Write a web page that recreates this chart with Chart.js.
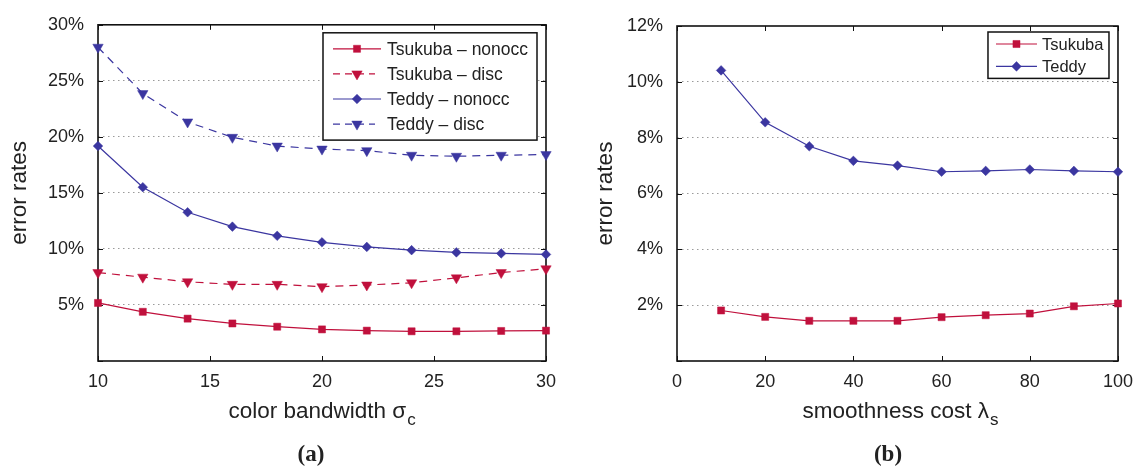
<!DOCTYPE html>
<html><head><meta charset="utf-8">
<script src="https://cdn.jsdelivr.net/npm/chart.js@4.4.0/dist/chart.umd.min.js"></script>
<style>
html,body{margin:0;padding:0;background:#fff;width:1143px;height:467px;overflow:hidden;position:relative}
canvas{position:absolute;top:0}
.xt{position:absolute;text-align:center;font-family:"Liberation Sans",Arial,sans-serif;font-size:22.5px;line-height:22.5px;color:#222;white-space:nowrap}
.sub{font-size:17px;position:relative;top:7px;margin-left:1px}
.pl{position:absolute;text-align:center;font-family:"Liberation Serif","Times New Roman",serif;font-weight:bold;font-size:23px;line-height:23px;color:#222}
</style></head><body>
<canvas id="ca" style="left:0px" width="570" height="400"></canvas>
<canvas id="cb" style="left:580px" width="563" height="400"></canvas>
<div class="xt" style="left:98px;width:448px;top:400px">color bandwidth σ<span class="sub">c</span></div>
<div class="pl" style="left:281px;width:60px;top:442px">(a)</div>
<div class="xt" style="left:677px;width:447px;top:400px">smoothness cost λ<span class="sub">s</span></div>
<div class="pl" style="left:858px;width:60px;top:442px">(b)</div>
<script>
// ---- data: panel (a) ----
const sigmaC = [10, 12, 14, 16, 18, 20, 22, 24, 26, 28, 30];
const tsukubaNonocc = [5.18, 4.39, 3.78, 3.35, 3.06, 2.82, 2.71, 2.65, 2.65, 2.68, 2.71];
const tsukubaDisc   = [7.89, 7.48, 7.07, 6.84, 6.84, 6.63, 6.78, 6.98, 7.42, 7.89, 8.23];
const teddyNonocc   = [19.18, 15.51, 13.27, 11.99, 11.17, 10.59, 10.18, 9.89, 9.69, 9.60, 9.51];
const teddyDisc     = [28.0, 23.86, 21.33, 19.96, 19.18, 18.91, 18.77, 18.36, 18.27, 18.36, 18.42];
const labelsA = ['Tsukuba – nonocc', 'Tsukuba – disc', 'Teddy – nonocc', 'Teddy – disc'];
// ---- data: panel (b) ----
const lambdaS = [10, 20, 30, 40, 50, 60, 70, 80, 90, 100];
const tsukubaB = [1.81, 1.58, 1.44, 1.44, 1.44, 1.57, 1.64, 1.70, 1.96, 2.06];
const teddyB   = [10.41, 8.55, 7.69, 7.17, 7.00, 6.78, 6.81, 6.86, 6.81, 6.78];
const labelsB = ['Tsukuba', 'Teddy'];
const yTitle = 'error rates';

const RED = '#c0103c', BLUE = '#3b36a0', INK = '#222';
const FONT = '"Liberation Sans", Arial, sans-serif';
const DASH = [8, 6];

function pts(xs, ys) { return xs.map((x, i) => ({ x: x, y: ys[i] })); }
function ds(label, xs, ys, color, style, radius, rotation, dashed) {
  return {
    label: label, data: pts(xs, ys),
    borderColor: color, backgroundColor: color,
    borderWidth: 1.2, borderDash: dashed ? DASH : [],
    pointStyle: style, pointRadius: radius, pointHoverRadius: radius,
    pointRotation: rotation, pointBackgroundColor: color, pointBorderColor: color,
    pointBorderWidth: 0.5, tension: 0, clip: false, fill: false
  };
}

function marker(ctx, style, r, rot, x, y) {
  ctx.beginPath();
  if (style === 'rect') {
    const s = Math.SQRT1_2 * r; ctx.rect(x - s, y - s, 2 * s, 2 * s);
  } else if (style === 'rectRot') {
    ctx.moveTo(x - r, y); ctx.lineTo(x, y - r); ctx.lineTo(x + r, y); ctx.lineTo(x, y + r); ctx.closePath();
  } else if (style === 'triangle') {
    let rad = rot * Math.PI / 180;
    ctx.moveTo(x + Math.sin(rad) * r, y - Math.cos(rad) * r);
    rad += 2 * Math.PI / 3; ctx.lineTo(x + Math.sin(rad) * r, y - Math.cos(rad) * r);
    rad += 2 * Math.PI / 3; ctx.lineTo(x + Math.sin(rad) * r, y - Math.cos(rad) * r);
    ctx.closePath();
  }
  ctx.fill(); ctx.stroke();
}

const framePlugin = {
  id: 'frame',
  beforeDatasetsDraw(chart) {
    const { ctx, chartArea: a, scales: { x, y } } = chart;
    ctx.save();
    ctx.strokeStyle = '#111'; ctx.lineWidth = 1;
    ctx.beginPath();
    x.ticks.forEach(t => {
      const p = Math.round(x.getPixelForValue(t.value)) + 0.5;
      ctx.moveTo(p, a.bottom); ctx.lineTo(p, a.bottom - 5);
      ctx.moveTo(p, a.top); ctx.lineTo(p, a.top + 5);
    });
    y.ticks.forEach(t => {
      const p = Math.round(y.getPixelForValue(t.value)) + 0.5;
      ctx.moveTo(a.left, p); ctx.lineTo(a.left + 5, p);
      ctx.moveTo(a.right, p); ctx.lineTo(a.right - 5, p);
    });
    ctx.stroke();
    ctx.lineWidth = 1.6; ctx.strokeStyle = '#111';
    ctx.strokeRect(a.left, a.top, a.right - a.left, a.bottom - a.top);
    ctx.restore();
  }
};

const boxLegend = {
  id: 'boxLegend',
  afterDatasetsDraw(chart, args, o) {
    const { ctx, chartArea: a } = chart;
    const n = chart.data.datasets.length;
    const w = o.width, h = o.padTop * 2 + o.rowH * (n - 1);
    const bx = a.right - o.right - w, by = a.top + o.top;
    ctx.save();
    ctx.fillStyle = '#fff'; ctx.fillRect(bx, by, w, h);
    ctx.lineWidth = 1.5; ctx.strokeStyle = '#111'; ctx.strokeRect(bx, by, w, h);
    ctx.font = o.fontSize + 'px ' + FONT; ctx.textBaseline = 'middle'; ctx.textAlign = 'left';
    chart.data.datasets.forEach((d, i) => {
      const ry = by + o.padTop + i * o.rowH;
      const lx = bx + o.lineStart;
      ctx.strokeStyle = d.borderColor; ctx.fillStyle = d.borderColor; ctx.lineWidth = 1.2;
      ctx.setLineDash(d.borderDash.length ? [7, 5] : []);
      ctx.beginPath();
      if (d.borderDash.length) { ctx.moveTo(lx, ry); ctx.lineTo(lx + o.lineLen - 6, ry); }
      else { ctx.moveTo(lx, ry); ctx.lineTo(lx + o.lineLen, ry); }
      ctx.stroke();
      ctx.setLineDash([]); ctx.lineWidth = 0.5;
      marker(ctx, d.pointStyle, d.pointRadius, d.pointRotation, lx + o.lineLen / 2, ry);
      ctx.fillStyle = INK;
      ctx.fillText(d.label, lx + o.lineLen + o.textGap, ry + 1);
    });
    ctx.restore();
  }
};

function makeChart(id, datasets, xmin, xmax, xstep, ymax, ystep, yw, pad, titlePad, legendOpts) {
  return new Chart(document.getElementById(id), {
    type: 'line',
    data: { datasets: datasets },
    plugins: [framePlugin, boxLegend],
    options: {
      responsive: false, animation: false, devicePixelRatio: 1,
      layout: { padding: pad },
      plugins: { legend: { display: false }, tooltip: { enabled: false }, boxLegend: legendOpts },
      scales: {
        x: {
          type: 'linear', min: xmin, max: xmax,
          afterFit: s => { s.height = 39; },
          grid: { display: false, drawTicks: false },
          border: { display: false },
          ticks: { stepSize: xstep, padding: 10, color: INK, font: { family: FONT, size: 18 }, maxRotation: 0 }
        },
        y: {
          type: 'linear', min: 0, max: ymax,
          afterFit: s => { s.width = yw; },
          grid: {
            drawTicks: false, lineWidth: 1,
            color: c => (c.tick && (c.tick.value === 0 || c.tick.value === ymax)) ? 'rgba(0,0,0,0)' : '#9a9a9a'
          },
          border: { display: false, dash: [1.5, 3.5] },
          ticks: {
            stepSize: ystep, padding: 14, color: INK, font: { family: FONT, size: 18 },
            callback: v => v === 0 ? '' : v + '%'
          },
          title: { display: true, text: yTitle, color: INK, font: { family: FONT, size: 22.5 }, padding: { top: titlePad, bottom: 0 } }
        }
      }
    }
  });
}

makeChart('ca', [
  ds(labelsA[0], sigmaC, tsukubaNonocc, RED, 'rect', 5, 0, false),
  ds(labelsA[1], sigmaC, tsukubaDisc, RED, 'triangle', 6, 180, true),
  ds(labelsA[2], sigmaC, teddyNonocc, BLUE, 'rectRot', 4.8, 0, false),
  ds(labelsA[3], sigmaC, teddyDisc, BLUE, 'triangle', 6, 180, true)
], 10, 30, 5, 30, 5, 98, { left: 0, right: 24, top: 17, bottom: 0 }, 6,
  { right: 9, top: 8, width: 214, padTop: 16, rowH: 25.1, lineStart: 10, lineLen: 48, textGap: 6, fontSize: 17.5 });

makeChart('cb', [
  ds(labelsB[0], lambdaS, tsukubaB, RED, 'rect', 5, 0, false),
  ds(labelsB[1], lambdaS, teddyB, BLUE, 'rectRot', 4.8, 0, false)
], 0, 100, 20, 12, 2, 97, { left: 0, right: 19, top: 26, bottom: 0 }, 12,
  { right: 9, top: 6, width: 121, padTop: 12, rowH: 22.4, lineStart: 8, lineLen: 41, textGap: 5, fontSize: 16.5 });
</script>
</body></html>
